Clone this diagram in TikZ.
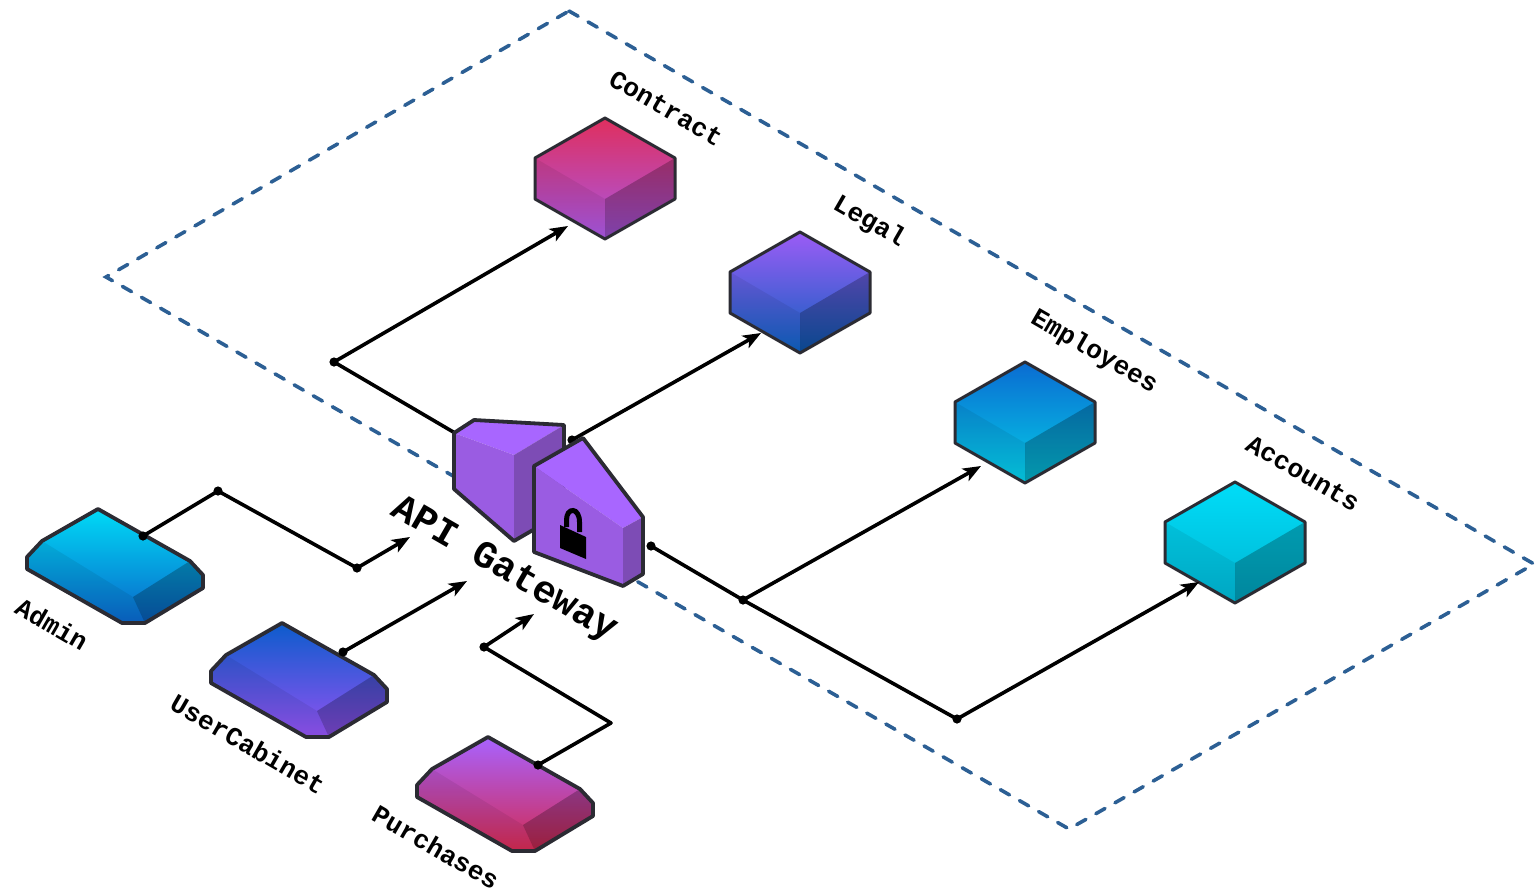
\documentclass[tikz,border=0pt]{standalone}
\usepackage{fontspec}
\setmainfont{Liberation Mono}
\usetikzlibrary{arrows.meta}
\definecolor{edgec}{HTML}{2B2B33}
\definecolor{bound}{HTML}{2C5F94}
\definecolor{gwtop}{RGB}{168,102,255}
\definecolor{gwleft}{RGB}{154,92,226}
\definecolor{gwright}{RGB}{125,76,181}
\definecolor{cA}{HTML}{DF2F5E}\definecolor{cB}{HTML}{A858E6}
\definecolor{lA}{HTML}{9C5CF6}\definecolor{lB}{HTML}{0C60BE}
\definecolor{eA}{HTML}{0A6CD2}\definecolor{eB}{HTML}{05CDE6}
\definecolor{aA}{HTML}{00DDF8}\definecolor{aB}{HTML}{00B4D2}
\definecolor{dA}{HTML}{00DAF6}\definecolor{dB}{HTML}{0A64C8}
\definecolor{uA}{HTML}{0C5CCC}\definecolor{uB}{HTML}{9452F2}
\definecolor{pA}{HTML}{A862FF}\definecolor{pB}{HTML}{D22A50}
\tikzset{
  x=1pt,y=-1pt,
  boundary/.style={draw=bound,line width=3.6pt,line cap=round,dash pattern=on 10.5pt off 11.5pt},
  outline/.style={draw=edgec,line join=round,line width=3.8pt},
  conn/.style={draw=black,line width=3.6pt,line join=round},
  arr/.style={conn,-{Stealth[length=18pt,width=14pt,inset=4.5pt]}},
  isolab/.style={font=\bfseries\fontsize{#1}{#1}\selectfont,inner sep=0pt,rotate=-30},
}
% cube: #1 name, #2 position of top vertex, #3 top colour, #4 bottom colour
\newcommand{\isocube}[4]{%
  \begin{scope}[shift={#2}]
    \shade[top color=#3,bottom color=#4] (0,0)--(70,40)--(70,81)--(0,121)--(-70,81)--(-70,40)--cycle;
    \fill[black,opacity=.07] (-70,40)--(0,81)--(0,121)--(-70,81)--cycle;
    \fill[black,opacity=.25] (70,40)--(0,81)--(0,121)--(70,81)--cycle;
    \draw[outline,line width=3pt] (0,0)--(70,40)--(70,81)--(0,121)--(-70,81)--(-70,40)--cycle;
    \coordinate (#1) at (0,60);
  \end{scope}}
% slab: #1 name, #2 position of top vertex, #3 top colour, #4 bottom colour
\newcommand{\isoslab}[4]{%
  \begin{scope}[shift={#2}]
    \shade[top color=#3,bottom color=#4] (0,0)--(92,52)--(105,66)--(105,79)--(47,114)--(24,114)--(-71,60)--(-71,48)--(-56,32)--cycle;
    \fill[black,opacity=.07] (-56,32)--(35,88)--(47,114)--(24,114)--(-71,60)--(-71,48)--cycle;
    \fill[black,opacity=.25] (92,52)--(35,88)--(47,114)--(105,79)--(105,66)--cycle;
    \draw[outline] (0,0)--(92,52)--(105,66)--(105,79)--(47,114)--(24,114)--(-71,60)--(-71,48)--(-56,32)--cycle;
    \coordinate (#1) at (0,60);
  \end{scope}}
\begin{document}
\begin{tikzpicture}
\useasboundingbox (0,0) rectangle (1535,892);
% dashed boundary
\coordinate (bT) at (569,11);
\coordinate (bR) at (1534,564);
\coordinate (bB) at (1069,829);
\coordinate (bL) at (106,277);
\draw[boundary] (bT)--(bR)--(bB)--(bL)--cycle;
% junctions and ends
\coordinate (gwLeft) at (455,433);
\coordinate (j1) at (334,362);
\coordinate (toContract) at (568,226);
\coordinate (gwTop) at (572,440);
\coordinate (toLegal) at (761,333);
\coordinate (gwRight) at (651,546);
\coordinate (j2) at (743,600);
\coordinate (toEmployees) at (981,466);
\coordinate (j3) at (957,719);
\coordinate (toAccounts) at (1199,582);
\coordinate (adminOut) at (143,536);
\coordinate (j4) at (218,491);
\coordinate (j5) at (357,568);
\coordinate (gwA) at (410,537);
\coordinate (userOut) at (343,652);
\coordinate (gwU) at (467,581);
\coordinate (purOut) at (538,765);
\coordinate (j6) at (611,723);
\coordinate (j7) at (484,647);
\coordinate (gwP) at (534,614);
% cubes
\isocube{contract}{(605,118)}{cA}{cB}
\isocube{legal}{(800,232)}{lA}{lB}
\isocube{employees}{(1025,362)}{eA}{eB}
\isocube{accounts}{(1235,482)}{aA}{aB}
% slabs
\isoslab{admin}{(98,509)}{dA}{dB}
\isoslab{usercabinet}{(282,623)}{uA}{uB}
\isoslab{purchases}{(488,737)}{pA}{pB}
% connectors
\draw[arr] (gwLeft)--(j1)--(toContract);
\draw[arr] (gwTop)--(toLegal);
\draw[conn] (gwRight)--(j2)--(j3);
\draw[arr] (j2)--(toEmployees);
\draw[arr] (j3)--(toAccounts);
\draw[arr] (adminOut)--(j4)--(j5)--(gwA);
\draw[arr] (userOut)--(gwU);
\draw[arr] (purOut)--(j6)--(j7)--(gwP);
\foreach \p in {j1,gwTop,gwRight,j2,j3,adminOut,j4,j5,userOut,purOut,j7}
  \fill (\p) circle (4.6pt);
% gateway back block
\fill[gwtop] (454,433)--(474,420)--(564,425)--(514,455)--cycle;
\fill[gwleft] (454,433)--(514,455)--(514,541)--(454,489)--cycle;
\fill[gwright] (564,425)--(564,512)--(514,541)--(514,455)--cycle;
\draw[outline] (454,433)--(474,420)--(564,425)--(564,512)--(514,541)--(454,489)--cycle;
% gateway front block
\fill[gwtop] (534,466)--(583,438)--(643,517)--(623,528)--cycle;
\fill[gwleft] (534,466)--(623,528)--(623,586)--(534,552)--cycle;
\fill[gwright] (643,517)--(643,574)--(623,586)--(623,528)--cycle;
\draw[outline] (534,466)--(583,438)--(643,517)--(643,574)--(623,586)--(534,552)--cycle;
% lock
\fill[black] (560,525)--(586,537)--(586,559)--(560,548)--cycle;
\draw[black,line width=5pt] (566.5,527)--(566.5,520) .. controls (566.5,507) and (579.5,507) .. (579.5,522)--(579.5,532);
% labels
\node[isolab=26.2] (lContract) at (666,108) {Contract};
\node[isolab=26.2] (lLegal) at (869,222) {Legal};
\node[isolab=26.2] (lEmployees) at (1094,352) {Employees};
\node[isolab=26.2] (lAccounts) at (1303,473) {Accounts};
\node[isolab=26.2] (lAdmin) at (52,624) {Admin};
\node[isolab=26.2] (lUser) at (248,744) {UserCabinet};
\node[isolab=26.2] (lPurchases) at (436,847) {Purchases};
\node[isolab=38.6] (lGateway) at (504,570) {API Gateway};
\end{tikzpicture}
\end{document}
